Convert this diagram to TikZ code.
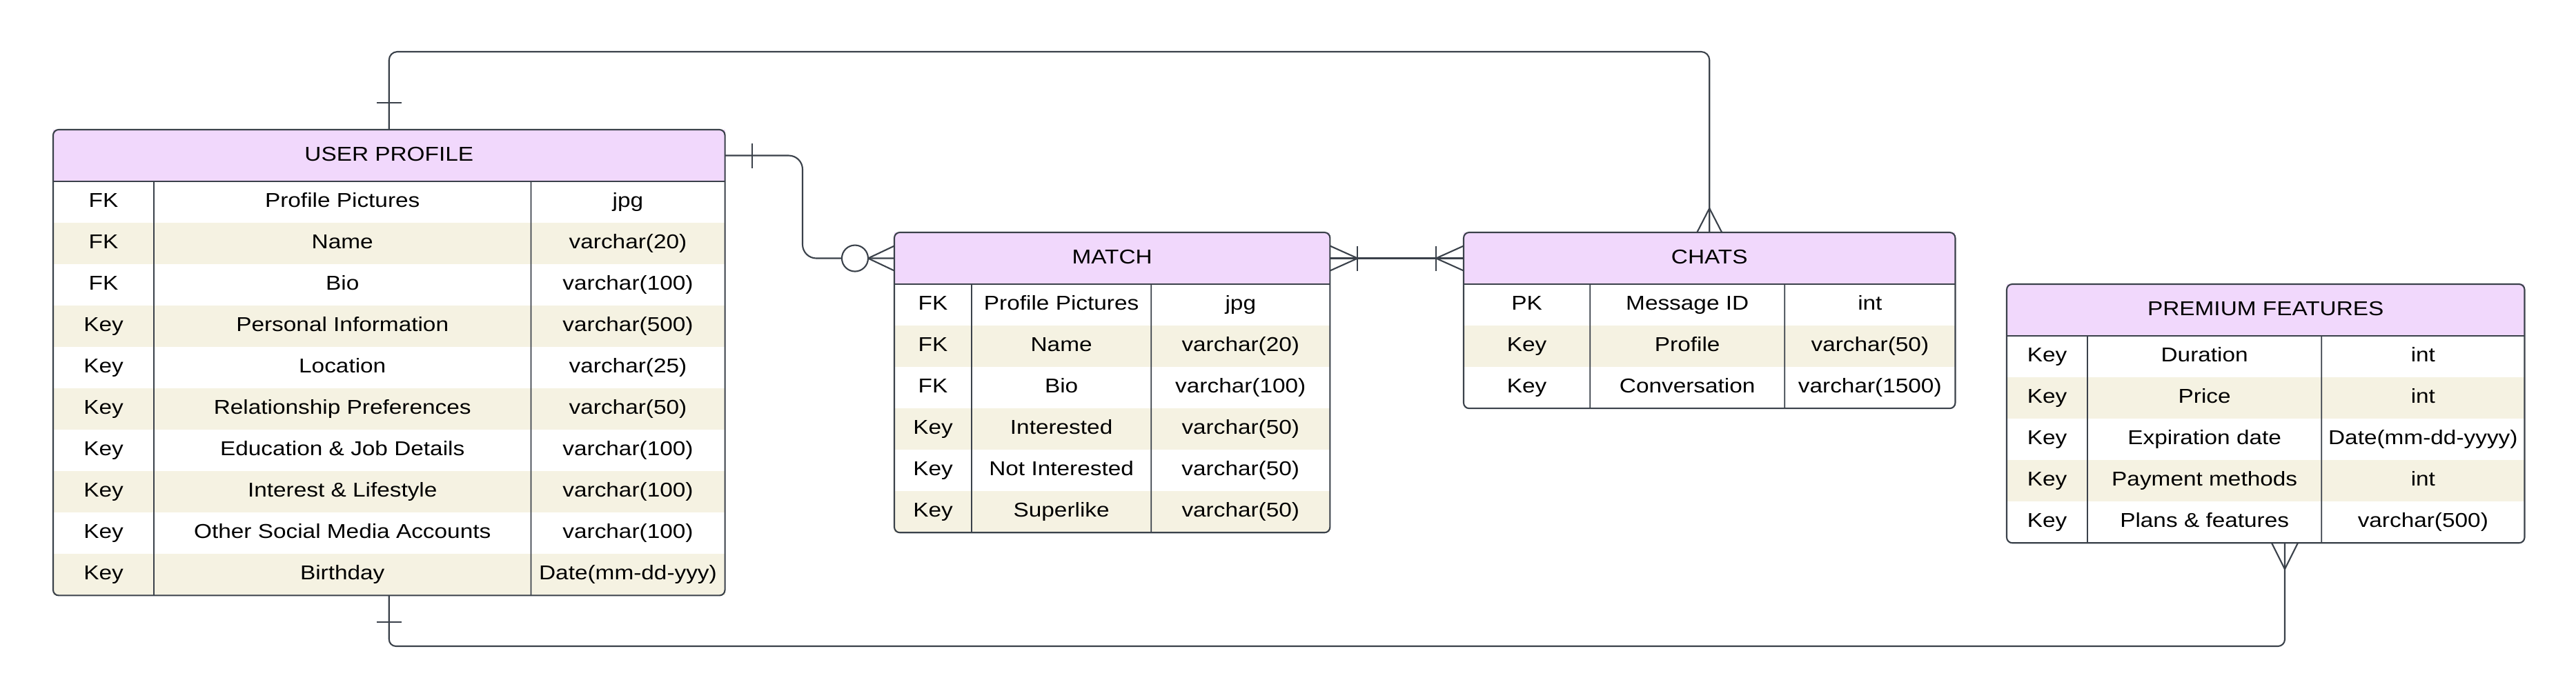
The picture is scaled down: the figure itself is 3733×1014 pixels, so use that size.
\documentclass[tikz,border=0pt]{standalone}
\usepackage{fontspec}
\setmainfont{Liberation Sans}[FakeStretch=1.15]
\usepackage{xcolor}
\usepackage{tikz}
\usetikzlibrary{positioning,calc}
\definecolor{erhead}{HTML}{F1D8FC}
\definecolor{ercream}{HTML}{F5F2E2}
\definecolor{erline}{HTML}{3A414A}
\newcommand{\erfont}{\fontsize{8.25pt}{10pt}\selectfont}
\newcommand{\erow}[6]{%
  \node[rowcell=#3, below=0pt of #2] (#1) {\makebox[\colk]{#4}\makebox[\colf]{#5}\makebox[\colt]{#6}};}
\tikzset{
  head/.style={fill=erhead, inner sep=0pt, outer sep=0pt, minimum height=0.75cm, anchor=north west,
               font=\erfont, text height=0.21cm, text depth=0.06cm},
  rowcell/.style={fill=#1, inner sep=0pt, outer sep=0pt, minimum height=0.6cm,
                  font=\erfont, text height=0.21cm, text depth=0.06cm},
  rowcell/.default=white,
  tbl/.style={draw=erline, line width=0.6pt, rounded corners=0.08cm},
  colline/.style={draw=erline, line width=0.5pt},
  link/.style={draw=erline, line width=0.6pt},
  zero/.style={circle, draw=erline, line width=0.6pt, fill=white, minimum size=0.38cm, inner sep=0pt},
}

\begin{document}
\begin{tikzpicture}[x=0.01cm, y=-0.01cm]
  \useasboundingbox (0,0) rectangle (3733,1014);

  % user profile
  \def\colk{1.46cm}\def\colf{5.46cm}\def\colt{2.81cm}
  \node[head, minimum width=9.73cm] (up) at (77,188) {USER PROFILE};
  \erow{up-1}{up}{white}{FK}{Profile Pictures}{jpg}
  \erow{up-2}{up-1}{ercream}{FK}{Name}{varchar(20)}
  \erow{up-3}{up-2}{white}{FK}{Bio}{varchar(100)}
  \erow{up-4}{up-3}{ercream}{Key}{Personal Information}{varchar(500)}
  \erow{up-5}{up-4}{white}{Key}{Location}{varchar(25)}
  \erow{up-6}{up-5}{ercream}{Key}{Relationship Preferences}{varchar(50)}
  \erow{up-7}{up-6}{white}{Key}{Education \& Job Details}{varchar(100)}
  \erow{up-8}{up-7}{ercream}{Key}{Interest \& Lifestyle}{varchar(100)}
  \erow{up-9}{up-8}{white}{Key}{Other Social Media Accounts}{varchar(100)}
  \erow{up-10}{up-9}{ercream}{Key}{Birthday}{Date(mm-dd-yyy)}
  \draw[colline] (up.south west) -- (up.south east);
  \draw[colline] ([xshift=\colk]up.south west) -- ([xshift=\colk]up-10.south west);
  \draw[colline] ([xshift=\colk+\colf]up.south west) -- ([xshift=\colk+\colf]up-10.south west);
  \draw[tbl] (up.north west) rectangle (up-10.south east);

  % match
  \def\colk{1.12cm}\def\colf{2.60cm}\def\colt{2.59cm}
  \node[head, minimum width=6.31cm] (ma) at (1296,337) {MATCH};
  \erow{ma-1}{ma}{white}{FK}{Profile Pictures}{jpg}
  \erow{ma-2}{ma-1}{ercream}{FK}{Name}{varchar(20)}
  \erow{ma-3}{ma-2}{white}{FK}{Bio}{varchar(100)}
  \erow{ma-4}{ma-3}{ercream}{Key}{Interested}{varchar(50)}
  \erow{ma-5}{ma-4}{white}{Key}{Not Interested}{varchar(50)}
  \erow{ma-6}{ma-5}{ercream}{Key}{Superlike}{varchar(50)}
  \draw[colline] (ma.south west) -- (ma.south east);
  \draw[colline] ([xshift=\colk]ma.south west) -- ([xshift=\colk]ma-6.south west);
  \draw[colline] ([xshift=\colk+\colf]ma.south west) -- ([xshift=\colk+\colf]ma-6.south west);
  \draw[tbl] (ma.north west) rectangle (ma-6.south east);

  % chats
  \def\colk{1.83cm}\def\colf{2.82cm}\def\colt{2.47cm}
  \node[head, minimum width=7.12cm] (ch) at (2121,337) {CHATS};
  \erow{ch-1}{ch}{white}{PK}{Message ID}{int}
  \erow{ch-2}{ch-1}{ercream}{Key}{Profile}{varchar(50)}
  \erow{ch-3}{ch-2}{white}{Key}{Conversation}{varchar(1500)}
  \draw[colline] (ch.south west) -- (ch.south east);
  \draw[colline] ([xshift=\colk]ch.south west) -- ([xshift=\colk]ch-3.south west);
  \draw[colline] ([xshift=\colk+\colf]ch.south west) -- ([xshift=\colk+\colf]ch-3.south west);
  \draw[tbl] (ch.north west) rectangle (ch-3.south east);

  % premium features
  \def\colk{1.17cm}\def\colf{3.39cm}\def\colt{2.94cm}
  \node[head, minimum width=7.50cm] (pf) at (2908,412) {PREMIUM FEATURES};
  \erow{pf-1}{pf}{white}{Key}{Duration}{int}
  \erow{pf-2}{pf-1}{ercream}{Key}{Price}{int}
  \erow{pf-3}{pf-2}{white}{Key}{Expiration date}{Date(mm-dd-yyyy)}
  \erow{pf-4}{pf-3}{ercream}{Key}{Payment methods}{int}
  \erow{pf-5}{pf-4}{white}{Key}{Plans \& features}{varchar(500)}
  \draw[colline] (pf.south west) -- (pf.south east);
  \draw[colline] ([xshift=\colk]pf.south west) -- ([xshift=\colk]pf-5.south west);
  \draw[colline] ([xshift=\colk+\colf]pf.south west) -- ([xshift=\colk+\colf]pf-5.south west);
  \draw[tbl] (pf.north west) rectangle (pf-5.south east);

  % user profile -- chats (over the top)
  \coordinate (atop) at (0,75);
  \draw[link, rounded corners=0.12cm] (up.north) -- (up.north |- atop) -| (ch.north);
  \draw[link] ([shift={(-18,-39)}]up.north) -- ([shift={(18,-39)}]up.north);
  \draw[link] ([shift={(-18,0)}]ch.north) -- ([shift={(0,-35)}]ch.north) -- ([shift={(18,0)}]ch.north);

  % user profile -- match
  \coordinate (bjog) at (1163,0);
  \draw[link, rounded corners=0.2cm] (up.east) -| (bjog |- ma.west) -- (ma.west);
  \draw[link] ([shift={(39,-18)}]up.east) -- ([shift={(39,18)}]up.east);
  \draw[link] ([shift={(0,-18)}]ma.west) -- ([shift={(-38,0)}]ma.west) -- ([shift={(0,18)}]ma.west);
  \node[zero] (bring) at ([xshift=-0.57cm]ma.west) {};

  % match -- chats
  \draw[link] (ma.east) -- (ch.west);
  \draw[link] ([shift={(0,-18)}]ma.east) -- ([shift={(40,0)}]ma.east) -- ([shift={(0,18)}]ma.east);
  \draw[link] ([shift={(40,-18)}]ma.east) -- ([shift={(40,18)}]ma.east);
  \draw[link] ([shift={(0,-18)}]ch.west) -- ([shift={(-40,0)}]ch.west) -- ([shift={(0,18)}]ch.west);
  \draw[link] ([shift={(-40,-18)}]ch.west) -- ([shift={(-40,18)}]ch.west);

  % user profile -- premium features (underneath)
  \coordinate (dlow) at (3311,937);
  \coordinate (pfin) at (dlow |- pf-5.south);
  \draw[link, rounded corners=0.1cm] (up-10.south) |- (dlow) -- (pfin);
  \draw[link] ([shift={(-18,39)}]up-10.south) -- ([shift={(18,39)}]up-10.south);
  \draw[link] ([shift={(-19,0)}]pfin) -- ([shift={(0,38)}]pfin) -- ([shift={(19,0)}]pfin);
\end{tikzpicture}
\end{document}
